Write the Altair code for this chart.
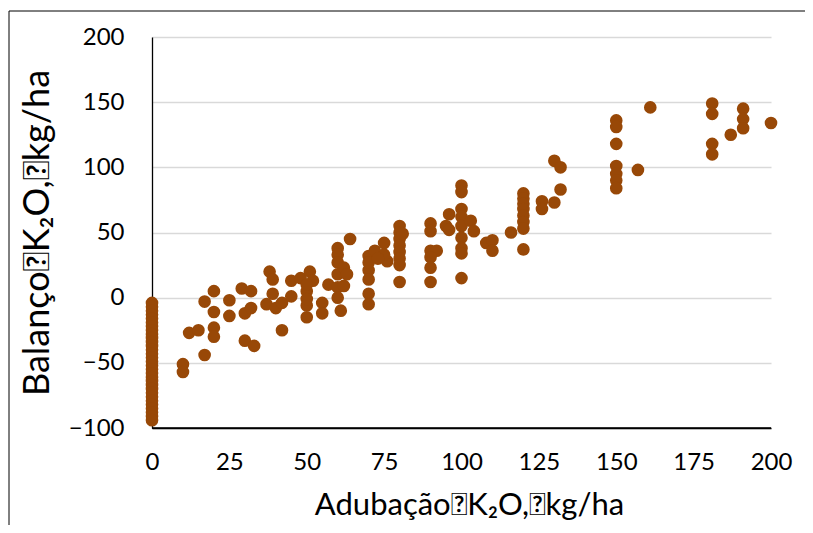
import altair as alt
import pandas as pd

# Values
x0_vals = [-4, -7, -10, -13, -16, -19, -22, -25, -28, -31, -34, -37, -40, -43, -46, -49,
           -52, -55, -58, -61, -64, -67, -70, -73, -76, -79, -82, -85, -88, -91, -94]

adub = [10, 10, 12, 15, 17, 17, 20, 20, 20, 20, 25, 25, 29, 30, 30, 32, 32, 33, 37,
        38, 39, 39, 40, 42, 42, 45, 45, 48, 50, 50, 50, 51, 52, 50, 50,
        55, 55, 57, 60, 60, 60, 60, 60, 60, 61, 62, 62, 64, 63,
        70, 70, 70, 72, 70, 70, 70, 75, 76, 75, 73,
        80, 80, 80, 80, 80, 80, 80, 80, 81,
        90, 90, 90, 92, 90, 90, 90, 95, 96, 96,
        100, 100, 100, 100, 100, 100, 100, 100, 100,
        103, 104, 108, 110, 110, 116,
        120, 120, 120, 120, 120, 120, 120, 120,
        126, 126, 130, 132, 130, 132,
        150, 150, 150, 150, 150, 150, 150, 157, 161,
        181, 181, 181, 181, 187, 191, 191, 191, 200]
balanco = [-51, -57, -27, -25, -44, -3, 5, -11, -23, -30, -2, -14, 7, -12, -33, 5, -8, -37, -5,
           20, 14, 3, -8, -25, -4, 13, 1, 15, 5, -6, -15, 20, 13, 10, -1,
           -4, -12, 10, 38, 33, 27, 18, 8, 0, -10, 23, 9, 45, 18,
           21, 14, 32, 36, 3, -5, 27, 42, 28, 33, 30,
           55, 50, 45, 40, 35, 30, 25, 12, 49,
           57, 51, 36, 36, 31, 23, 12, 55, 64, 52,
           86, 81, 68, 62, 55, 46, 38, 34, 15,
           59, 51, 42, 44, 36, 50,
           80, 76, 72, 68, 63, 58, 53, 37,
           74, 68, 105, 100, 73, 83,
           136, 131, 118, 101, 95, 90, 84, 98, 146,
           149, 141, 118, 110, 125, 145, 137, 130, 134]

x_ticks = [0, 25, 50, 75, 100, 125, 150, 175, 200]
y_ticks = [-100, -50, 0, 50, 100, 150, 200]

df = pd.DataFrame({
    "x": [0] * len(x0_vals) + adub,
    "y": x0_vals + balanco,
})

FONT = "Lato"
box = "\uf020"
x_title = f"Adubação{box}K₂O,{box}kg/ha"
y_title = f"Balanço{box}K₂O,{box}kg/ha"

points = alt.Chart(df).mark_circle(size=160, opacity=1, color="#984807").encode(
    x=alt.X("x:Q", scale=alt.Scale(domain=[0, 200], nice=False),
            axis=alt.Axis(values=x_ticks, title=x_title, grid=False, ticks=False,
                          labelFlush=False, labelOverlap=False, zindex=1,
                          labelPadding=22, titlePadding=16, labelFontSize=24,
                          titleFontSize=31, labelFont=FONT, titleFont=FONT,
                          titleX=317,
                          labelColor="#000", titleColor="#000", titleFontWeight="normal",
                          domainColor="#000", domainWidth=1.3)),
    y=alt.Y("y:Q", scale=alt.Scale(domain=[-100, 200], nice=False),
            axis=alt.Axis(values=y_ticks, title=y_title, grid=True, ticks=False,
                          labelFlush=False, labelOverlap=False,
                          labelPadding=28, titlePadding=12, labelFontSize=24,
                          titleFontSize=36, labelFont=FONT, titleFont=FONT,
                          labelColor="#000", titleColor="#000", titleFontWeight="normal",
                          gridColor="#d9d9d9", gridWidth=1.5,
                          domainColor="#000", domainWidth=1.3)),
)

one = pd.DataFrame({"a": [0]})
bottom_axis = alt.Chart(one).mark_rule(color="#000", strokeWidth=1.3).encode(
    x=alt.value(0), x2=alt.value(619), y=alt.value(391))
frame_top = alt.Chart(one).mark_rule(color="#000", strokeWidth=1).encode(
    x=alt.value(-143), x2=alt.value(700), y=alt.value(-26))
frame_left = alt.Chart(one).mark_rule(color="#000", strokeWidth=1).encode(
    x=alt.value(-143), y=alt.value(-26), y2=alt.value(500))

chart = alt.layer(bottom_axis, points, frame_top, frame_left).properties(
    width=619, height=391,
    autosize=alt.AutoSizeParams(type="none"),
    padding={"left": 144, "top": 29, "right": 34, "bottom": 97},
).configure_view(stroke=None)

chart.save("out.html", embed_options={"renderer": "svg", "actions": False})
